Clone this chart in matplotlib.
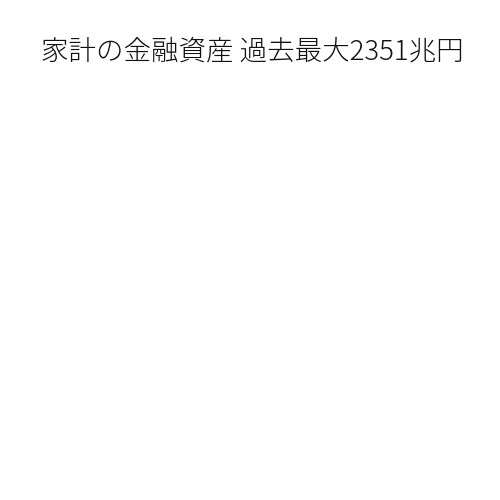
import matplotlib
matplotlib.use("Agg")
import matplotlib.pyplot as plt

plt.rcParams['font.family'] = ['Noto Sans CJK JP', 'DejaVu Sans']

# 見出しのみ（グラフ本体は空白）
title_text = "家計の金融資産 過去最大2351兆円"

fig = plt.figure(figsize=(5, 5), dpi=100)
fig.patch.set_facecolor('white')

fig.text(0.505, 0.898, title_text, ha='center', va='center',
         fontsize=19.8, color='#111111', fontweight='light')

fig.savefig('out.png', dpi=100, facecolor='white')
